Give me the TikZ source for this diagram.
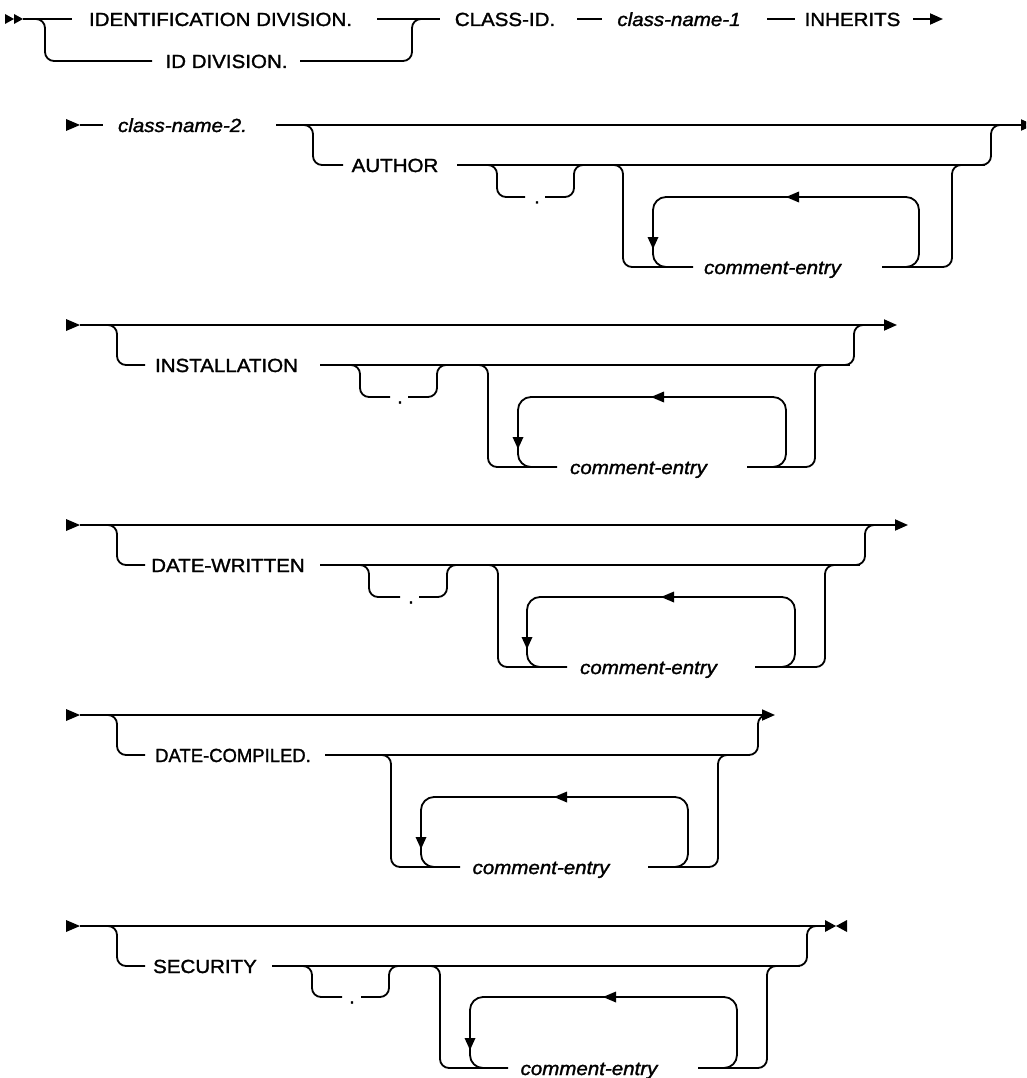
\documentclass[tikz,border=0pt]{standalone}
\usepackage{fontspec}
\setmainfont[FakeStretch=1.08,FakeBold=1.5]{Liberation Sans}
\usetikzlibrary{arrows.meta}
\begin{document}
\begin{tikzpicture}[x=1pt,y=-1pt,
  rr/.style={line width=1.8pt, line join=round},
  rc/.style={rr, rounded corners=9pt},
  lp/.style={rr, rounded corners=13pt},
  kw/.style={anchor=base, inner sep=0pt, font=\fontsize{19}{23}\selectfont},
  var/.style={anchor=base, inner sep=0pt, font=\fontsize{19}{23}\selectfont\itshape},
  tipr/.style={rr, -{Triangle[length=13pt,width=11pt]}}]
\useasboundingbox (0,0) rectangle (1026,1078);
\clip (0,0) rectangle (1026,1078);

% ---------------- Row 1 ----------------
\fill (5,14) -- (14,19) -- (5,24) -- cycle;
\fill (14,14) -- (23,19) -- (14,24) -- cycle;
\draw[rr] (23,19) -- (72,19);
\draw[rc] (30,19) -- (45,19) -- (45,61) -- (152,61);
\node[kw] (idd) at (220.5,26) {IDENTIFICATION DIVISION.};
\node[kw] (idshort) at (226.5,68) {ID DIVISION.};
\draw[rr] (377,19) -- (440,19);
\draw[rc] (300,61) -- (412,61) -- (412,19) -- (425,19);
\node[kw] (clsid) at (505,26) {CLASS-ID.};
\draw[rr] (577,19) -- (602,19);
\node[var] (cn1) at (679,26) {class-name-1};
\draw[rr] (767,19) -- (795,19);
\node[kw] (inh) at (852.5,26) {INHERITS};
\draw[tipr] (913,19) -- (943,19);

% ---------------- Row 2 ----------------
\fill (66,119) -- (80,125) -- (66,131) -- cycle;
\draw[rr] (80,125) -- (103,125);
\node[var] (cn2) at (182.5,132) {class-name-2.};
\draw[tipr] (276,125) -- (1034,125);
\draw[rc] (295,125) -- (313,125) -- (313,165) -- (343,165);
\node[kw] (author) at (395,172) {AUTHOR};
\draw[rr] (457,165) -- (985,165);
\draw[rc] (970,165) -- (991,165) -- (991,125) -- (1005,125);
\draw[rc] (480,165) -- (497,165) -- (497,197) -- (525,197);
\node[kw] (dotA) at (537,203.5) {.};
\draw[rc] (545,197) -- (574,197) -- (574,165) -- (590,165);
\draw[rc] (605,165) -- (623,165) -- (623,267) -- (693,267);
\node[var] (ceA) at (772.5,274) {comment-entry};
\draw[rc] (882,267) -- (952,267) -- (952,165) -- (965,165);
\draw[lp] (895,267) -- (919,267) -- (919,197) -- (653,197) -- (653,267) -- (680,267);
\fill (799,191.5) -- (786,197) -- (799,202.5) -- cycle;
\fill (647.5,237) -- (653,249) -- (658.5,237) -- cycle;

% ---------------- Row 3 ----------------
\fill (66,319) -- (80,325) -- (66,331) -- cycle;
\draw[tipr] (80,325) -- (897,325);
\draw[rc] (95,325) -- (117,325) -- (117,365) -- (145,365);
\node[kw] (inst) at (226.5,372) {INSTALLATION};
\draw[rr] (320,365) -- (850,365);
\draw[rc] (835,365) -- (854,365) -- (854,325) -- (870,325);
\draw[rc] (345,365) -- (360,365) -- (360,397) -- (390,397);
\node[kw] (dotI) at (400,403.5) {.};
\draw[rc] (408,397) -- (437,397) -- (437,365) -- (450,365);
\draw[rc] (470,365) -- (488,365) -- (488,467) -- (557,467);
\node[var] (ceI) at (638.5,474) {comment-entry};
\draw[rc] (747,467) -- (815,467) -- (815,365) -- (830,365);
\draw[lp] (760,467) -- (786,467) -- (786,397) -- (518,397) -- (518,467) -- (545,467);
\fill (664,391.5) -- (651,397) -- (664,402.5) -- cycle;
\fill (512.5,437) -- (518,449) -- (523.5,437) -- cycle;

% ---------------- Row 4 ----------------
\fill (66,519) -- (80,525) -- (66,531) -- cycle;
\draw[tipr] (80,525) -- (908,525);
\draw[rc] (95,525) -- (117,525) -- (117,565) -- (145,565);
\node[kw] (dw) at (228,572) {DATE-WRITTEN};
\draw[rr] (320,565) -- (860,565);
\draw[rc] (845,565) -- (865,565) -- (865,525) -- (880,525);
\draw[rc] (352,565) -- (369,565) -- (369,597) -- (400,597);
\node[kw] (dotW) at (411,603.5) {.};
\draw[rc] (419,597) -- (447,597) -- (447,565) -- (462,565);
\draw[rc] (480,565) -- (498,565) -- (498,667) -- (567,667);
\node[var] (ceW) at (648.5,674) {comment-entry};
\draw[rc] (755,667) -- (825,667) -- (825,565) -- (840,565);
\draw[lp] (770,667) -- (795,667) -- (795,597) -- (527,597) -- (527,667) -- (555,667);
\fill (674,591.5) -- (661,597) -- (674,602.5) -- cycle;
\fill (521.5,637) -- (527,649) -- (532.5,637) -- cycle;

% ---------------- Row 5 ----------------
\fill (66,709) -- (80,715) -- (66,721) -- cycle;
\draw[tipr] (80,715) -- (775,715);
\draw[rc] (95,715) -- (117,715) -- (117,755) -- (145,755);
\node[kw] (dc) at (233,762) {\scalebox{0.9}[1]{DATE-COMPILED.}};
\draw[rr] (325,755) -- (750,755);
\draw[rc] (735,755) -- (758,755) -- (758,715) -- (770,715);
\draw[rc] (375,755) -- (391,755) -- (391,867) -- (460,867);
\node[var] (ceC) at (541,874) {comment-entry};
\draw[rc] (648,867) -- (718,867) -- (718,755) -- (733,755);
\draw[lp] (665,867) -- (688,867) -- (688,797) -- (421,797) -- (421,867) -- (450,867);
\fill (567,791.5) -- (554,797) -- (567,802.5) -- cycle;
\fill (415.5,837) -- (421,849) -- (426.5,837) -- cycle;

% ---------------- Row 6 ----------------
\fill (66,920) -- (80,926) -- (66,932) -- cycle;
\draw[rr] (80,926) -- (826,926);
\fill (825,920) -- (836,926) -- (825,932) -- cycle;
\fill (847,920) -- (836,926) -- (847,932) -- cycle;
\draw[rc] (95,926) -- (117,926) -- (117,966) -- (145,966);
\node[kw] (sec) at (205,973) {SECURITY};
\draw[rr] (272,966) -- (800,966);
\draw[rc] (785,966) -- (807,966) -- (807,926) -- (820,926);
\draw[rc] (295,966) -- (312,966) -- (312,997) -- (342,997);
\node[kw] (dotS) at (352,1003.5) {.};
\draw[rc] (361,997) -- (389,997) -- (389,966) -- (405,966);
\draw[rc] (425,966) -- (440,966) -- (440,1068) -- (508,1068);
\node[var] (ceS) at (589,1075) {comment-entry};
\draw[rc] (698,1068) -- (767,1068) -- (767,966) -- (782,966);
\draw[lp] (715,1068) -- (737,1068) -- (737,997) -- (470,997) -- (470,1068) -- (495,1068);
\fill (616,991.5) -- (603,997) -- (616,1002.5) -- cycle;
\fill (464.5,1038) -- (470,1050) -- (475.5,1038) -- cycle;
\end{tikzpicture}
\end{document}
